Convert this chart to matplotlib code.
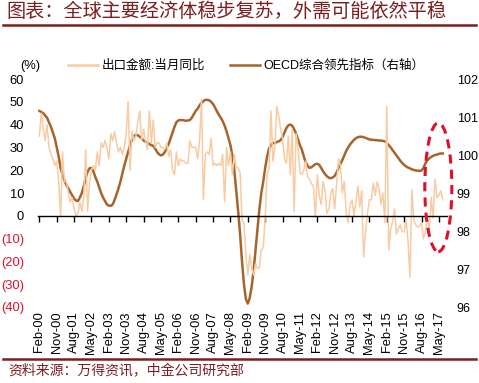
import matplotlib
matplotlib.use("Agg")
import matplotlib.pyplot as plt
from matplotlib.patches import Ellipse
from matplotlib.lines import Line2D
import numpy as np

plt.rcParams['font.family'] = ['Liberation Sans', 'Noto Sans CJK SC', 'DejaVu Sans']

# monthly, Feb-00 .. Jul-17
export_yoy = (
    [35, 45, 38, 33, 40, 30, 27, 25, 22, 24, 15] +              # 2000 (Feb-Dec)
    [0, 28, 15, 15, 10, 6, 8, 3, 0, 1, 6, 2] +                  # 2001
    [8, 29, 2, 15, 20, 22, 20, 28, 22, 32, 30, 33] +            # 2002
    [30, 25, 36, 33, 37, 32, 28, 30, 27, 30, 36, 50] +          # 2003
    [20, 37, 33, 35, 41, 46, 33, 38, 33, 29, 46, 32] +          # 2004
    [42, 30, 32, 32, 30, 30, 29, 32, 26, 29, 20, 18] +          # 2005
    [28, 22, 25, 24, 24, 23, 23, 33, 30, 30, 30, 25] +          # 2006
    [33, 51, 7, 27, 28, 27, 34, 22, 23, 22, 23, 22] +           # 2007
    [27, 6, 30, 22, 28, 18, 27, 21, 21, 19, -2, -3] +           # 2008
    [-17, -26, -17, -23, -26, -21, -23, -23, -15, -14, -1, 18] +  # 2009
    [21, 46, 24, 30, 48, 44, 38, 34, 25, 23, 35, 18] +          # 2010
    [38, 2, 36, 30, 19, 18, 20, 24, 17, 16, 14, 13] +           # 2011
    [-0.5, 18, 9, 5, 15, 11, 1, 3, 10, 12, 3, 14] +             # 2012
    [25, 22, 10, 15, 1, -3, 5, 7, 0, 6, 13, 4] +                # 2013
    [11, -18, -7, 1, 7, 7, 14.5, 9, 15, 12, 5, 10] +            # 2014
    [-3, 48, -15, -6, -2.5, 3, -8, -5.5, -4, -7, -7, -1.5] +    # 2015
    [-11, -27, 11.5, -2, -4, -5, -4.5, -3, -10, -7, 0, -6] +    # 2016
    [8, -1, 16, 8, 9, 11, 7]                                    # 2017 (Jan-Jul)
)

oecd_cli = (
    [101.16, 101.13, 101.10, 101.04, 100.98, 100.86, 100.74, 100.59, 100.44, 100.20, 99.96] +
    [99.66, 99.48, 99.33, 99.21, 99.12, 99.03, 98.94, 98.85, 98.80, 98.79, 98.88, 99.00] +
    [99.18, 99.39, 99.56, 99.65, 99.66, 99.57, 99.42, 99.30, 99.15, 99.00, 98.88, 98.79] +
    [98.70, 98.67, 98.66, 98.70, 98.82, 98.97, 99.12, 99.30, 99.51, 99.72, 99.90, 100.08] +
    [100.26, 100.41, 100.50, 100.53, 100.52, 100.48, 100.44, 100.38, 100.35, 100.32, 100.29, 100.26] +
    [100.24, 100.17, 100.08, 100.02, 99.99, 100.01, 100.08, 100.20, 100.29, 100.44, 100.59, 100.74] +
    [100.86, 100.91, 100.92, 100.92, 100.91, 100.90, 100.91, 100.92, 100.98, 101.07, 101.16, 101.22] +
    [101.31, 101.37, 101.42, 101.45, 101.45, 101.44, 101.40, 101.34, 101.25, 101.15, 101.06, 100.98] +
    [100.89, 100.77, 100.62, 100.44, 100.26, 99.96, 99.60, 99.06, 98.52, 97.92, 97.20, 96.60] +
    [96.21, 96.09, 96.24, 96.54, 96.96, 97.50, 98.04, 98.58, 99.00, 99.30, 99.66, 99.96] +
    [100.17, 100.26, 100.31, 100.32, 100.34, 100.36, 100.39, 100.47, 100.59, 100.71, 100.78, 100.80] +
    [100.77, 100.68, 100.56, 100.41, 100.26, 100.14, 99.96, 99.81, 99.71, 99.66, 99.68, 99.72] +
    [99.76, 99.77, 99.74, 99.66, 99.57, 99.50, 99.44, 99.40, 99.39, 99.41, 99.45, 99.54] +
    [99.66, 99.77, 99.87, 99.99, 100.11, 100.20, 100.28, 100.34, 100.40, 100.44, 100.47, 100.48] +
    [100.48, 100.47, 100.45, 100.43, 100.41, 100.40, 100.40, 100.39, 100.39, 100.38, 100.38, 100.37] +
    [100.36, 100.32, 100.26, 100.20, 100.13, 100.06, 99.99, 99.92, 99.85, 99.79, 99.74, 99.70] +
    [99.67, 99.65, 99.62, 99.61, 99.59, 99.59, 99.58, 99.59, 99.66, 99.78, 99.86, 99.91] +
    [99.95, 99.98, 100.00, 100.01, 100.03, 100.04, 100.04]
)

xtick_labels = ["Feb-00", "Nov-00", "Aug-01", "May-02", "Feb-03", "Nov-03", "Aug-04",
                "May-05", "Feb-06", "Nov-06", "Aug-07", "May-08", "Feb-09", "Nov-09",
                "Aug-10", "May-11", "Feb-12", "Nov-12", "Aug-13", "May-14", "Feb-15",
                "Nov-15", "Aug-16", "May-17"]
left_ticks = [-40, -30, -20, -10, 0, 10, 20, 30, 40, 50, 60]
left_labels = ["(40)", "(30)", "(20)", "(10)", "0", "10", "20", "30", "40", "50", "60"]
right_ticks = [96, 97, 98, 99, 100, 101, 102]

c_exp = '#F8CBA2'
c_oecd = '#A5652C'
c_title = '#7A1F1F'
c_neg = '#E0102A'

W, H = 479, 383
fig = plt.figure(figsize=(W / 100, H / 100), dpi=100)
ax = fig.add_axes([38 / W, 1 - 307 / H, (447 - 38) / W, (307 - 79) / H])
ax2 = ax.twinx()

months = np.arange(len(export_yoy))
ax.plot(months, export_yoy, color=c_exp, lw=1.1, zorder=2)
ax2.plot(np.arange(len(oecd_cli)), oecd_cli, color=c_oecd, lw=1.8, zorder=3)

ax.set_xlim(-0.7, 211.2)
ax.set_ylim(-40, 60)
ax2.set_ylim(96, 102)

for a in (ax, ax2):
    for s in a.spines.values():
        s.set_visible(False)

# zero line with downward ticks
ax.spines['bottom'].set_visible(True)
ax.spines['bottom'].set_position(('data', 0))
ax.spines['bottom'].set_linewidth(1.0)
ax.set_xticks(range(0, 210, 9))
ax.tick_params(axis='x', direction='out', length=4, width=1, labelbottom=False)

sec = ax.secondary_xaxis('bottom')
sec.set_xticks(range(0, 210, 9))
sec.set_xticklabels(xtick_labels, rotation=90, fontsize=9.3)
sec.tick_params(length=0, pad=3)
for s in sec.spines.values():
    s.set_visible(False)

ax.set_yticks(left_ticks)
ax.set_yticklabels(left_labels, fontsize=9.3)
ax.tick_params(axis='y', length=0, pad=10)
for lab, v in zip(ax.get_yticklabels(), left_ticks):
    if v < 0:
        lab.set_color(c_neg)

ax2.set_yticks(right_ticks)
ax2.tick_params(axis='y', length=0, pad=7, labelsize=9)

ax.set_zorder(ax2.get_zorder() + 1)
ax.patch.set_visible(False)

ell = Ellipse((206.7, 12.5), 14, 56.5, fill=False, ls=(0, (3, 2)), lw=2.2,
              edgecolor=c_neg, zorder=5, clip_on=False)
ax.add_patch(ell)

handles = [Line2D([], [], color=c_exp, lw=1.8), Line2D([], [], color=c_oecd, lw=1.8)]
fig.legend(handles, ["出口金额:当月同比", "OECD综合领先指标（右轴）"], ncol=2,
           loc='center left', bbox_to_anchor=(68 / W, 1 - 66 / H), frameon=False,
           fontsize=9, handlelength=2.4, handletextpad=0.3, columnspacing=2.0,
           borderaxespad=0, borderpad=0)
fig.text(20 / W, 1 - 66 / H, "(%)", fontsize=9.3, va='center')

fig.text(6 / W, 1 - 12 / H, "图表：全球主要经济体稳步复苏，外需可能依然平稳",
         fontsize=13.8, color=c_title, va='center', style='italic')
fig.add_artist(Line2D([3 / W, 476 / W], [1 - 25 / H, 1 - 25 / H], color=c_title, lw=1.8))
fig.add_artist(Line2D([3 / W, 476 / W], [1 - 359 / H, 1 - 359 / H], color=c_title, lw=1.8))
fig.text(8 / W, 1 - 371 / H, "资料来源：万得资讯，中金公司研究部",
         fontsize=10, color=c_title, va='center', style='italic')

fig.savefig("out.png", dpi=100)
